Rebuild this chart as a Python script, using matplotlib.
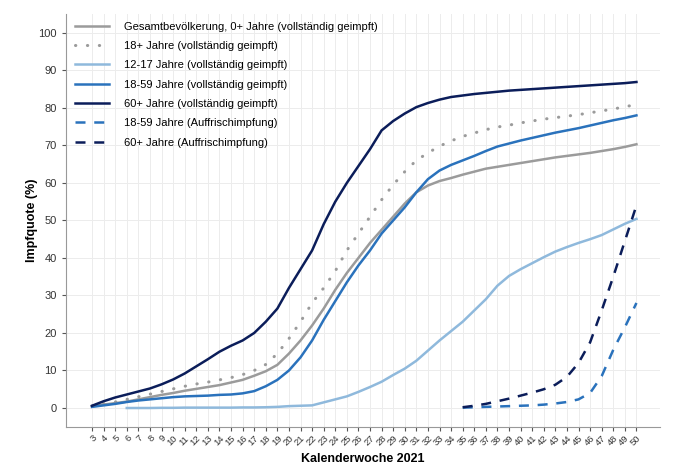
import matplotlib
matplotlib.use("Agg")
import matplotlib.pyplot as plt
import numpy as np

plt.rcParams['font.family'] = ['Liberation Sans', 'DejaVu Sans']

# Kalenderwochen 2021
weeks = list(range(3, 51))

# Gesamtbevölkerung, 0+ Jahre (vollständig geimpft), KW 3-50
gesamt = [0.5, 0.9, 1.3, 1.7, 2.3, 2.9, 3.5, 4.0, 4.6, 5.1, 5.6, 6.1, 6.8, 7.5,
          8.6, 9.8, 11.5, 14.5, 18.0, 22.0, 26.5, 31.5, 36.0, 40.0, 44.0, 47.5,
          51.0, 54.5, 57.5, 59.3, 60.5, 61.3, 62.2, 63.0, 63.8, 64.3, 64.8, 65.3,
          65.8, 66.3, 66.8, 67.2, 67.6, 68.0, 68.5, 69.0, 69.6, 70.3]

# 18+ Jahre (vollständig geimpft), KW 3-50
ab18 = [0.5, 1.1, 1.6, 2.3, 3.0, 3.7, 4.4, 5.1, 5.8, 6.4, 6.9, 7.5, 8.1, 8.9,
        10.0, 11.6, 14.5, 18.5, 23.0, 28.0, 32.0, 36.5, 42.0, 46.5, 51.0, 55.5,
        59.5, 63.0, 66.0, 68.0, 69.8, 71.2, 72.4, 73.3, 74.2, 74.9, 75.4, 76.0,
        76.5, 77.0, 77.4, 77.8, 78.2, 78.7, 79.2, 79.7, 80.3, 80.9]

# 12-17 Jahre (vollständig geimpft), KW 6-50
weeks_12_17 = list(range(6, 51))
j12_17 = [0.0, 0.0, 0.0, 0.05, 0.05, 0.1, 0.1, 0.1, 0.1, 0.1, 0.15, 0.15, 0.2,
          0.3, 0.5, 0.6, 0.7, 1.5, 2.3, 3.1, 4.3, 5.6, 7.0, 8.8, 10.5, 12.6,
          15.3, 18.0, 20.5, 23.0, 26.0, 29.0, 32.6, 35.2, 37.0, 38.6, 40.2, 41.7,
          42.9, 44.0, 45.0, 46.1, 47.6, 49.1, 50.4]

# 18-59 Jahre (vollständig geimpft), KW 3-50
j18_59 = [0.3, 0.7, 1.1, 1.6, 2.0, 2.3, 2.6, 2.9, 3.1, 3.2, 3.3, 3.5, 3.6, 3.9,
          4.5, 5.8, 7.5, 10.0, 13.5, 18.0, 23.5, 28.5, 33.5, 38.0, 42.0, 46.5,
          50.0, 53.5, 57.5, 61.0, 63.3, 64.8, 66.0, 67.2, 68.5, 69.7, 70.5, 71.3,
          72.0, 72.7, 73.4, 74.0, 74.6, 75.3, 76.0, 76.7, 77.3, 78.0]

# 60+ Jahre (vollständig geimpft), KW 3-50
ab60 = [0.6, 1.8, 2.8, 3.6, 4.4, 5.2, 6.3, 7.6, 9.2, 11.1, 13.0, 15.0, 16.6,
        18.0, 20.0, 23.0, 26.5, 32.0, 37.0, 42.0, 49.0, 55.0, 60.0, 64.5, 69.0,
        74.0, 76.5, 78.5, 80.2, 81.3, 82.2, 82.9, 83.3, 83.7, 84.0, 84.3, 84.6,
        84.8, 85.0, 85.2, 85.4, 85.6, 85.8, 86.0, 86.2, 86.4, 86.6, 86.9]

# Auffrischimpfung, KW 35-50
weeks_boost = list(range(35, 51))
boost_18_59 = [0.1, 0.2, 0.3, 0.4, 0.5, 0.6, 0.7, 0.9, 1.2, 1.6, 2.3, 4.0,
               8.5, 15.5, 21.5, 28.0]
boost_60 = [0.2, 0.6, 1.1, 1.8, 2.5, 3.3, 4.1, 5.0, 6.2, 8.3, 12.0, 17.5,
            26.0, 35.0, 44.5, 54.0]

c_gray = '#9b9b9b'
c_light = '#8fb9dc'
c_mid = '#2a72bc'
c_navy = '#0b1d5a'

fig = plt.figure(figsize=(6.8, 4.7), dpi=100)
ax = fig.add_axes([0.097, 0.092, 0.873, 0.878])

ax.plot(weeks, gesamt, color=c_gray, lw=1.8,
        label='Gesamtbevölkerung, 0+ Jahre (vollständig geimpft)')
ax.plot(weeks, ab18, color=c_gray, lw=2.2, linestyle=(0, (0.1, 3.8)),
        dash_capstyle='round', label='18+ Jahre (vollständig geimpft)')
ax.plot(weeks_12_17, j12_17, color=c_light, lw=1.8,
        label='12-17 Jahre (vollständig geimpft)')
ax.plot(weeks, j18_59, color=c_mid, lw=1.8,
        label='18-59 Jahre (vollständig geimpft)')
ax.plot(weeks, ab60, color=c_navy, lw=1.8,
        label='60+ Jahre (vollständig geimpft)')
ax.plot(weeks_boost, boost_18_59, color=c_mid, lw=1.8, linestyle=(0, (4, 3.5)),
        label='18-59 Jahre (Auffrischimpfung)')
ax.plot(weeks_boost, boost_60, color=c_navy, lw=1.8, linestyle=(0, (4, 3.5)),
        label='60+ Jahre (Auffrischimpfung)')

ax.set_xlim(0.75, 52)
ax.set_ylim(-5, 105)
ax.set_xticks(weeks)
ax.set_xticklabels([str(w) for w in weeks], rotation=45, ha='right',
                   rotation_mode='anchor', fontsize=6.8, color='#333333')
ax.set_yticks(range(0, 101, 10))
ax.tick_params(axis='y', labelsize=8, colors='#333333', length=3, color='#555555')
ax.tick_params(axis='x', length=3, color='#555555', pad=2)
ax.grid(True, color='#ececec', lw=0.7)
ax.set_axisbelow(True)

for s in ['top', 'right']:
    ax.spines[s].set_visible(False)
for s in ['left', 'bottom']:
    ax.spines[s].set_color('#999999')
    ax.spines[s].set_linewidth(0.8)

ax.set_ylabel('Impfquote (%)', fontsize=9, fontweight='bold', labelpad=0)
ax.set_xlabel('Kalenderwoche 2021', fontsize=9, fontweight='bold', labelpad=4)

ax.legend(loc='upper left', bbox_to_anchor=(0.015, 0.982), frameon=False,
          fontsize=8, handlelength=3.1, handletextpad=1.35, labelspacing=0.84,
          borderpad=0, borderaxespad=0)

fig.savefig('out.png', dpi=100, facecolor='white')
